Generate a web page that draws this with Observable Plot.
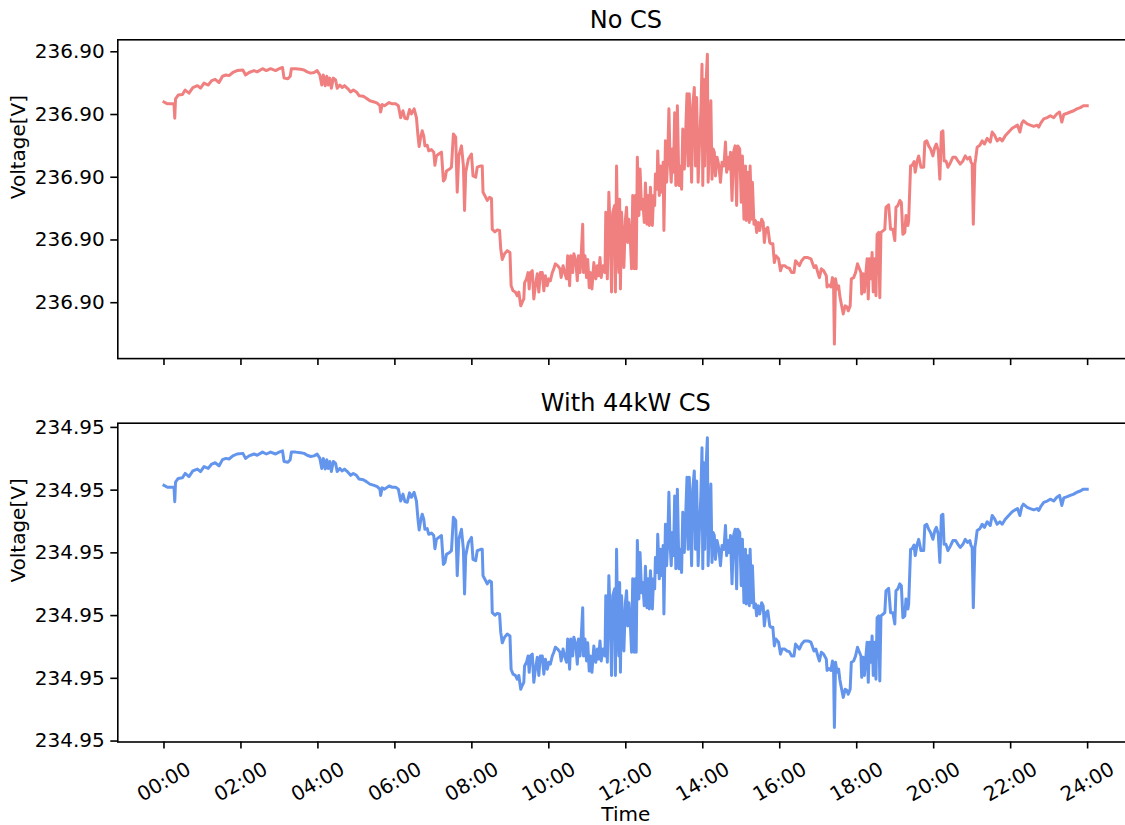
<!DOCTYPE html>
<html>
<head>
<meta charset="utf-8">
<script src="https://cdn.jsdelivr.net/npm/d3@7"></script>
<script src="https://cdn.jsdelivr.net/npm/@observablehq/plot@0.6"></script>
<style>
  html, body { margin: 0; padding: 0; background: white; overflow: hidden; }
  #chart { width: 1125px; height: 825px; position: relative; overflow: hidden; }
  #chart svg { display: block; overflow: hidden; }
</style>
</head>
<body>
<div id="chart"></div>
<script>
// ---- data ----
// time of day in hours
const timeH = [
0.00,0.09,0.20,0.26,0.28,0.30,0.37,0.48,0.55,0.65,
0.75,0.87,0.95,1.04,1.15,1.24,1.33,1.43,1.52,1.61,
1.69,1.79,1.90,2.05,2.12,2.21,2.34,2.42,2.56,2.66,
2.77,2.90,2.99,3.08,3.12,3.22,3.28,3.31,3.42,3.55,
3.64,3.72,3.81,3.90,3.98,4.05,4.10,4.14,4.19,4.23,
4.27,4.31,4.35,4.40,4.46,4.50,4.57,4.63,4.69,4.78,
4.85,4.92,5.00,5.07,5.18,5.26,5.35,5.46,5.54,5.61,
5.63,5.67,5.73,5.85,5.93,6.02,6.09,6.15,6.21,6.26,
6.32,6.38,6.43,6.50,6.56,6.60,6.63,6.67,6.71,6.75,
6.78,6.84,6.88,6.95,7.01,7.04,7.08,7.14,7.21,7.26,
7.30,7.34,7.42,7.47,7.52,7.58,7.62,7.66,7.73,7.78,
7.81,7.84,7.91,7.99,8.03,8.10,8.14,8.23,8.27,8.29,
8.36,8.40,8.46,8.51,8.53,8.60,8.66,8.72,8.75,8.79,
8.85,8.92,8.99,9.02,9.07,9.13,9.18,9.22,9.27,9.31,
9.35,9.37,9.42,9.46,9.49,9.52,9.57,9.61,9.65,9.70,
9.74,9.78,9.83,9.87,9.91,9.96,10.00,10.04,10.09,10.13,
10.17,10.23,10.29,10.32,10.37,10.41,10.46,10.49,10.54,10.57,
10.62,10.65,10.70,10.74,10.77,10.81,10.84,10.88,10.90,10.94,
10.98,11.01,11.05,11.08,11.12,11.17,11.22,11.26,11.29,11.33,
11.36,11.41,11.46,11.48,11.52,11.56,11.60,11.63,11.66,11.71,
11.73,11.76,11.79,11.82,11.84,11.86,11.89,11.92,11.95,11.99,
12.02,12.05,12.08,12.12,12.15,12.18,12.22,12.25,12.27,12.30,
12.34,12.37,12.41,12.44,12.48,12.51,12.55,12.58,12.61,12.64,
12.69,12.72,12.75,12.77,12.81,12.83,12.87,12.90,12.94,12.97,
12.99,13.03,13.06,13.09,13.12,13.15,13.18,13.21,13.24,13.27,
13.30,13.34,13.38,13.41,13.45,13.48,13.52,13.55,13.59,13.62,
13.65,13.69,13.71,13.74,13.78,13.81,13.84,13.88,13.91,13.95,
13.98,14.00,14.03,14.05,14.09,14.12,14.14,14.18,14.21,14.24,
14.27,14.30,14.33,14.37,14.42,14.46,14.50,14.55,14.59,14.62,
14.66,14.69,14.72,14.76,14.80,14.84,14.88,14.91,14.96,15.00,
15.03,15.07,15.11,15.13,15.17,15.21,15.23,15.27,15.29,15.33,
15.37,15.40,15.44,15.48,15.53,15.57,15.60,15.64,15.69,15.74,
15.77,15.82,15.86,15.90,15.97,16.02,16.06,16.13,16.19,16.25,
16.31,16.37,16.41,16.45,16.51,16.57,16.64,16.73,16.81,16.89,
16.94,16.99,17.03,17.08,17.14,17.21,17.23,17.28,17.33,17.37,
17.40,17.42,17.45,17.49,17.53,17.56,17.59,17.65,17.70,17.75,
17.78,17.83,17.86,17.92,17.97,18.02,18.07,18.11,18.13,18.17,
18.20,18.24,18.27,18.30,18.33,18.37,18.40,18.43,18.47,18.50,
18.53,18.57,18.60,18.63,18.69,18.73,18.76,18.83,18.88,18.94,
18.99,19.02,19.07,19.12,19.16,19.20,19.25,19.28,19.33,19.35,
19.40,19.44,19.49,19.52,19.57,19.61,19.67,19.74,19.77,19.82,
19.87,19.92,19.98,20.03,20.07,20.12,20.16,20.20,20.24,20.27,
20.32,20.37,20.44,20.50,20.57,20.63,20.69,20.76,20.82,20.88,
20.94,20.97,21.00,21.03,21.07,21.09,21.13,21.20,21.26,21.32,
21.39,21.47,21.52,21.58,21.65,21.72,21.78,21.86,21.95,22.04,
22.12,22.18,22.24,22.29,22.33,22.43,22.51,22.60,22.69,22.73,
22.79,22.86,22.95,23.03,23.12,23.20,23.27,23.33,23.38,23.47,
23.55,23.64,23.72,23.81,23.89,23.99
];

// "No CS": voltage deviation from 236.898 V, in mV
const baseNoCS = 236.898;
const noCSmV = [
3.20,3.17,3.17,3.17,2.94,3.25,3.31,3.32,3.39,3.34,
3.43,3.46,3.42,3.50,3.47,3.54,3.56,3.51,3.61,3.63,
3.62,3.67,3.70,3.71,3.63,3.67,3.70,3.68,3.73,3.70,
3.73,3.70,3.73,3.75,3.58,3.57,3.61,3.73,3.73,3.72,
3.71,3.68,3.66,3.67,3.70,3.63,3.47,3.63,3.46,3.61,
3.47,3.58,3.42,3.58,3.55,3.42,3.47,3.43,3.46,3.41,
3.36,3.39,3.36,3.30,3.29,3.26,3.22,3.20,3.18,3.14,
3.04,3.16,3.14,3.19,3.17,3.17,3.14,2.95,3.06,2.94,
2.93,3.08,3.01,3.09,2.95,2.66,2.49,2.64,2.74,2.66,
2.50,2.51,2.42,2.44,2.40,2.19,2.34,2.37,2.40,1.94,
1.97,2.10,2.13,2.16,2.69,2.64,1.76,2.34,2.50,2.18,
1.47,2.08,2.29,2.37,2.02,2.00,2.16,2.18,2.18,1.76,
1.68,1.63,1.68,1.66,1.17,1.13,1.16,1.15,0.86,0.69,
0.78,0.83,0.80,0.27,0.19,0.17,0.11,0.17,-0.05,0.01,
0.06,0.32,0.38,0.48,0.22,0.48,0.51,0.06,0.27,0.46,
0.17,0.48,0.48,0.19,0.43,0.27,0.38,0.35,0.48,0.54,
0.62,0.59,0.54,0.40,0.59,0.48,0.38,0.75,0.27,0.75,
0.48,0.78,0.67,0.35,0.75,0.48,0.75,1.25,0.48,0.75,
0.40,0.69,0.24,0.48,0.22,0.64,0.38,0.59,0.43,0.72,
0.40,0.59,0.48,1.44,0.38,1.76,1.01,0.17,1.44,1.55,
0.17,2.18,0.91,0.48,1.65,0.22,1.44,1.01,0.56,1.33,
1.52,0.96,1.33,0.96,0.54,1.71,0.54,1.71,0.54,2.32,
1.39,2.13,1.49,1.65,1.28,1.91,1.25,1.71,1.23,1.84,
1.23,1.71,1.55,2.05,1.81,2.42,1.71,2.18,1.76,2.24,
1.15,2.58,1.92,2.32,3.09,2.29,1.92,2.45,2.08,3.03,
1.87,3.14,1.87,2.18,1.81,2.77,2.13,2.61,3.33,2.18,
3.33,2.45,1.92,3.14,3.43,2.18,3.27,1.92,2.45,3.03,
3.80,1.87,3.56,2.18,3.56,3.96,1.92,2.72,3.22,1.97,
2.45,2.40,2.02,2.32,2.18,1.92,2.24,2.18,2.56,2.08,
2.32,2.13,2.40,1.63,2.40,2.50,1.55,2.50,2.45,1.60,
2.34,1.33,2.18,1.31,2.08,1.28,2.18,1.33,1.92,1.25,
1.31,1.12,1.28,1.15,1.33,1.28,0.96,1.17,1.20,0.96,
0.94,0.94,0.64,0.75,0.70,0.51,0.59,0.59,0.56,0.55,
0.48,0.48,0.67,0.64,0.59,0.67,0.72,0.72,0.70,0.56,
0.59,0.48,0.40,0.54,0.51,0.43,0.25,0.28,0.25,0.40,
0.22,-0.66,0.38,0.22,0.27,0.11,0.01,-0.18,-0.05,-0.07,
-0.13,-0.05,0.38,0.40,0.48,0.62,0.54,0.48,0.14,0.46,
0.17,0.48,0.70,0.06,0.70,0.38,0.80,0.17,0.70,0.11,
1.09,1.12,0.08,1.12,1.15,1.17,1.52,1.56,1.17,1.17,
0.99,1.52,1.55,1.63,1.60,1.09,1.12,1.39,1.23,1.31,
2.18,2.19,2.25,2.08,2.26,2.34,2.16,2.16,2.56,2.58,
2.50,2.45,2.34,2.48,2.53,2.42,1.97,2.72,2.74,2.26,
2.26,2.16,2.24,2.32,2.32,2.26,2.21,2.26,2.34,2.29,
2.32,2.24,2.21,1.25,2.21,2.29,2.48,2.51,2.58,2.53,
2.62,2.56,2.72,2.67,2.58,2.62,2.58,2.66,2.72,2.78,
2.81,2.83,2.72,2.86,2.90,2.85,2.83,2.81,2.83,2.80,
2.87,2.93,2.95,2.98,2.95,3.01,3.04,2.88,3.00,3.02,
3.04,3.06,3.09,3.11,3.14,3.14
];

// "With 44kW CS": voltage deviation from 234.948 V, in mV
const baseWithCS = 234.948;
const withCSmV = [
3.20,3.17,3.17,3.17,2.94,3.25,3.31,3.32,3.39,3.34,
3.43,3.46,3.42,3.50,3.47,3.54,3.56,3.51,3.61,3.63,
3.62,3.67,3.70,3.71,3.63,3.67,3.70,3.68,3.73,3.70,
3.73,3.70,3.73,3.75,3.58,3.57,3.61,3.73,3.73,3.72,
3.71,3.68,3.66,3.67,3.70,3.63,3.47,3.63,3.46,3.61,
3.47,3.58,3.42,3.58,3.55,3.42,3.47,3.43,3.46,3.41,
3.36,3.39,3.36,3.30,3.29,3.26,3.22,3.20,3.18,3.14,
3.04,3.16,3.14,3.19,3.17,3.17,3.14,2.95,3.06,2.94,
2.93,3.08,3.01,3.09,2.95,2.66,2.49,2.64,2.74,2.66,
2.50,2.51,2.42,2.44,2.40,2.19,2.34,2.37,2.40,1.94,
1.97,2.10,2.13,2.16,2.69,2.64,1.76,2.34,2.50,2.18,
1.47,2.08,2.29,2.37,2.02,2.00,2.16,2.18,2.18,1.76,
1.68,1.63,1.68,1.66,1.17,1.13,1.16,1.15,0.86,0.69,
0.78,0.83,0.80,0.27,0.19,0.17,0.11,0.17,-0.05,0.01,
0.06,0.32,0.38,0.48,0.22,0.48,0.51,0.06,0.27,0.46,
0.17,0.48,0.48,0.19,0.43,0.27,0.38,0.35,0.48,0.54,
0.62,0.59,0.54,0.40,0.59,0.48,0.38,0.75,0.27,0.75,
0.48,0.78,0.67,0.35,0.75,0.48,0.75,1.25,0.48,0.75,
0.40,0.69,0.24,0.48,0.22,0.64,0.38,0.59,0.43,0.72,
0.40,0.59,0.48,1.44,0.38,1.76,1.01,0.17,1.44,1.55,
0.17,2.18,0.91,0.48,1.65,0.22,1.44,1.01,0.56,1.33,
1.52,0.96,1.33,0.96,0.54,1.71,0.54,1.71,0.54,2.32,
1.39,2.13,1.49,1.65,1.28,1.91,1.25,1.71,1.23,1.84,
1.23,1.71,1.55,2.05,1.81,2.42,1.71,2.18,1.76,2.24,
1.15,2.58,1.92,2.32,3.09,2.29,1.92,2.45,2.08,3.03,
1.87,3.14,1.87,2.18,1.81,2.77,2.13,2.61,3.33,2.18,
3.33,2.45,1.92,3.14,3.43,2.18,3.27,1.92,2.45,3.03,
3.80,1.87,3.56,2.18,3.56,3.96,1.92,2.72,3.22,1.97,
2.45,2.40,2.02,2.32,2.18,1.92,2.24,2.18,2.56,2.08,
2.32,2.13,2.40,1.63,2.40,2.50,1.55,2.50,2.45,1.60,
2.34,1.33,2.18,1.31,2.08,1.28,2.18,1.33,1.92,1.25,
1.31,1.12,1.28,1.15,1.33,1.28,0.96,1.17,1.20,0.96,
0.94,0.94,0.64,0.75,0.70,0.51,0.59,0.59,0.56,0.55,
0.48,0.48,0.67,0.64,0.59,0.67,0.72,0.72,0.70,0.56,
0.59,0.48,0.40,0.54,0.51,0.43,0.25,0.28,0.25,0.40,
0.22,-0.66,0.38,0.22,0.27,0.11,0.01,-0.18,-0.05,-0.07,
-0.13,-0.05,0.38,0.40,0.48,0.62,0.54,0.48,0.14,0.46,
0.17,0.48,0.70,0.06,0.70,0.38,0.80,0.17,0.70,0.11,
1.09,1.12,0.08,1.12,1.15,1.17,1.52,1.56,1.17,1.17,
0.99,1.52,1.55,1.63,1.60,1.09,1.12,1.39,1.23,1.31,
2.18,2.19,2.25,2.08,2.26,2.34,2.16,2.16,2.56,2.58,
2.50,2.45,2.34,2.48,2.53,2.42,1.97,2.72,2.74,2.26,
2.26,2.16,2.24,2.32,2.32,2.26,2.21,2.26,2.34,2.29,
2.32,2.24,2.21,1.25,2.21,2.29,2.48,2.51,2.58,2.53,
2.62,2.56,2.72,2.67,2.58,2.62,2.58,2.66,2.72,2.78,
2.81,2.83,2.72,2.86,2.90,2.85,2.83,2.81,2.83,2.80,
2.87,2.93,2.95,2.98,2.95,3.01,3.04,2.88,3.00,3.02,
3.04,3.06,3.09,3.11,3.14,3.14
];

// ticks
const xTicks = [0, 2, 4, 6, 8, 10, 12, 14, 16, 18, 20, 22, 24];
const xTickLabels = ["00:00","02:00","04:00","06:00","08:00","10:00","12:00","14:00","16:00","18:00","20:00","22:00","24:00"];
const yTicksNoCS = [236.898, 236.899, 236.900, 236.901, 236.902];
const yTicksWithCS = [234.947124, 234.948124, 234.949124, 234.950124, 234.951124, 234.952124];

const titles = ["No CS", "With 44kW CS"];
const yLabel = "Voltage[V]";
const xLabel = "Time";
const colors = ["#F08080", "#6495ED"];

// ---- drawing ----
const fmt = d3.format(".2f");
const FONT = "DejaVu Sans, sans-serif";

function panel({base, values, color, title, yTicks, height, mt, mb, bottom}) {
  const data = timeH.map((t, i) => ({t, v: base + values[i] / 1000}));
  const [lo, hi] = d3.extent(data, d => d.v);
  const pad = (hi - lo) * 0.05;
  const marks = [
    Plot.line(data, {x: "t", y: "v", stroke: color, strokeWidth: 3, strokeLinejoin: "round", strokeLinecap: "square"}),
    Plot.frame({stroke: "black", strokeWidth: 1.6}),
    Plot.axisY({ticks: yTicks, tickFormat: fmt, tickSize: 7, tickPadding: 6, strokeWidth: 1.6, fontSize: 20, fill: "black", label: null}),
    Plot.axisX({ticks: xTicks, tickSize: 7, tickFormat: () => "", strokeWidth: 1.6, label: null}),
    Plot.text([title], {frameAnchor: "top", dy: -29, fontSize: 24, fill: "black"}),
    Plot.text([yLabel], {frameAnchor: "left", dx: -99.6, rotate: -90, fontSize: 20, fill: "black"})
  ];
  if (bottom) {
    const lab = xTicks.map((t, i) => ({t, s: xTickLabels[i]}));
    marks.push(
      Plot.text(lab, {x: "t", text: "s", frameAnchor: "bottom", dy: 40, rotate: -30, textAnchor: "middle", lineAnchor: "middle", fontSize: 20, fill: "black"}),
      Plot.text([xLabel], {frameAnchor: "bottom", dy: 78.5, fontSize: 20, fill: "black"})
    );
  }
  return Plot.plot({
    width: 1125,
    height,
    marginLeft: 117.3,
    marginRight: -8.3,
    marginTop: mt,
    marginBottom: mb,
    style: {fontFamily: FONT, fontSize: "20px", color: "black", background: "white", overflow: "hidden"},
    x: {type: "linear", domain: [-1.2, 25.2], range: [117.3, 1133.3], axis: null},
    y: {type: "linear", domain: [lo - pad, hi + pad], axis: null},
    marks
  });
}

const chart = document.getElementById("chart");
chart.appendChild(panel({base: baseNoCS, values: noCSmV, color: colors[0], title: titles[0], yTicks: yTicksNoCS, height: 390, mt: 39.3, mb: 31.9, bottom: false}));
chart.appendChild(panel({base: baseWithCS, values: withCSmV, color: colors[1], title: titles[1], yTicks: yTicksWithCS, height: 435, mt: 32.7, mb: 83.5, bottom: true}));
</script>
</body>
</html>
